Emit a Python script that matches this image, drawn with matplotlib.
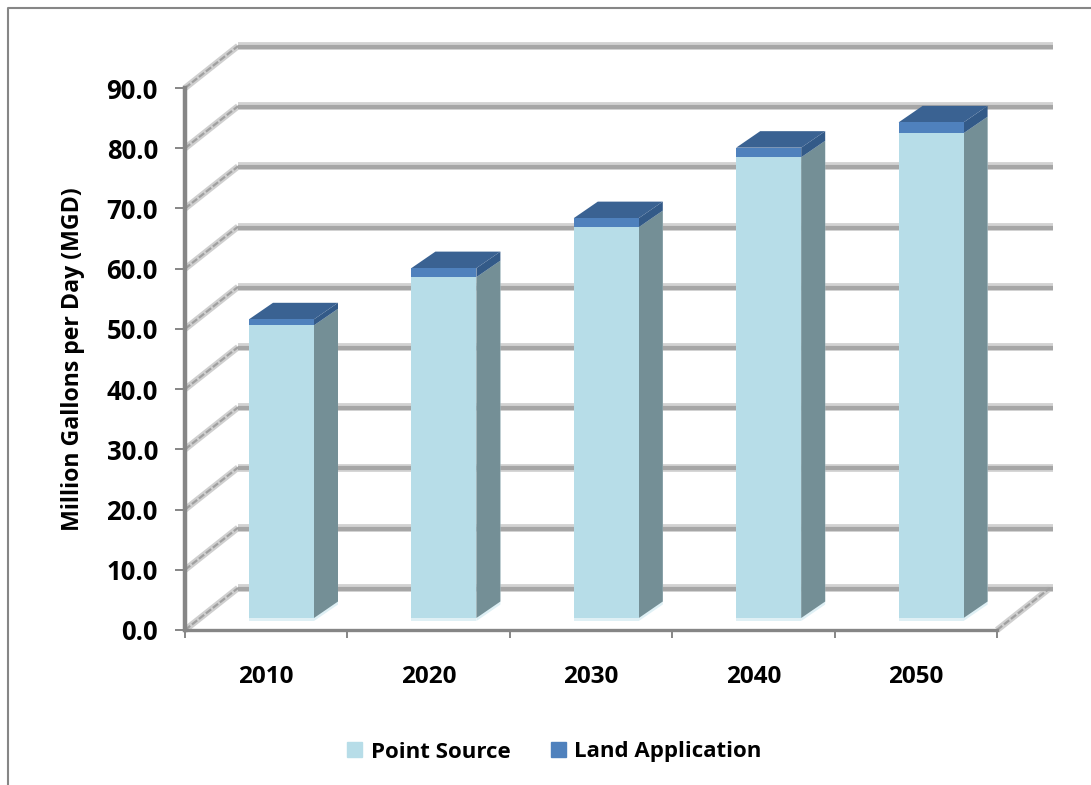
import matplotlib
matplotlib.use("Agg")
import matplotlib.pyplot as plt
from matplotlib.lines import Line2D
from matplotlib.patches import Patch

plt.rcParams["font.family"] = ["Open Sans", "DejaVu Sans"]
plt.rcParams["font.weight"] = "bold"

years = ["2010", "2020", "2030", "2040", "2050"]
point_source = [48.6, 56.6, 64.9, 76.5, 80.5]
land_application = [1.0, 1.5, 1.5, 1.6, 1.8]
y_ticks = [0, 10, 20, 30, 40, 50, 60, 70, 80, 90]

W, H = 1091, 785
LEFT, RIGHT, Y0, Y90 = 185, 997, 630, 88
x_px = (RIGHT - LEFT) / 5
y_px = (Y0 - Y90) / 90

# oblique offsets, converted from pixels to data units
wall_dx, wall_dy = 53 / x_px, 42 / y_px
wall_end = 5 + 56 / x_px
depth_dx, depth_dy = 24 / x_px, 16.5 / y_px
bar_left, bar_w = 64 / x_px, 65 / x_px
bar_base = 12 / y_px

LIGHT = "#b7dde8"
BLUE = "#4f81bd"
SIDE = "#748f96"
TOP = "#3a6292"
TOP_SIDE = "#335a88"
PALE = "#dff0f5"
AXIS = "#868686"

fig = plt.figure(figsize=(W / 100, H / 100), dpi=100)
ax = fig.add_axes([LEFT / W, 1 - Y0 / H, (RIGHT - LEFT) / W, (Y0 - Y90) / H])
ax.set_xlim(0, 5)
ax.set_ylim(0, 90)

# back wall and side wall lines
for v in y_ticks:
    ax.plot([wall_dx, wall_end], [v + wall_dy] * 2, color="#d2d2d2", lw=5.6,
            solid_capstyle="butt", clip_on=False, zorder=1)
    ax.plot([wall_dx, wall_end], [v + wall_dy - 0.15] * 2, color="#a6a6a6", lw=3,
            solid_capstyle="butt", clip_on=False, zorder=1.1)
    ax.plot([0, wall_dx], [v, v + wall_dy], color="#cfcfcf", lw=4.6,
            solid_capstyle="butt", clip_on=False, zorder=1)
    ax.plot([0, wall_dx], [v, v + wall_dy], color="#a0a0a0", lw=1.6, ls=(0, (3, 1)),
            clip_on=False, zorder=1.1)
ax.plot([5, 5 + wall_dx], [0, wall_dy], color="#cfcfcf", lw=4.6,
        solid_capstyle="butt", clip_on=False, zorder=1)
ax.plot([5, 5 + wall_dx], [0, wall_dy], color="#a0a0a0", lw=1.6, ls=(0, (3, 1)),
        clip_on=False, zorder=1.1)

# bars with side and top faces
lefts = [i + bar_left for i in range(len(years))]
for x, ps, la in zip(lefts, point_source, land_application):
    r = x + bar_w
    b = bar_base
    m = b + ps
    t = m + la
    ax.fill([r, r + depth_dx, r + depth_dx, r], [b - 0.5, b - 0.5 + depth_dy, m + depth_dy, m],
            color=PALE, lw=0, clip_on=False, zorder=2)
    ax.fill([r, r + depth_dx, r + depth_dx, r], [b, b + depth_dy, m + depth_dy, m],
            color=SIDE, lw=0, clip_on=False, zorder=2.1)
    ax.fill([r, r + depth_dx, r + depth_dx, r], [m, m + depth_dy, t + depth_dy, t],
            color=TOP_SIDE, lw=0, clip_on=False, zorder=2.1)
    ax.fill([x, x + depth_dx, r + depth_dx, r], [t, t + depth_dy, t + depth_dy, t],
            color=TOP, lw=0, clip_on=False, zorder=2.1)

ax.bar(lefts, [0.5] * 5, bar_w, bottom=bar_base - 0.5, align="edge", color=PALE, zorder=3)
ax.bar(lefts, point_source, bar_w, bottom=bar_base, align="edge", color=LIGHT, zorder=3)
ax.bar(lefts, land_application, bar_w, bottom=[bar_base + p for p in point_source],
       align="edge", color=BLUE, zorder=3)

for s in ["top", "right"]:
    ax.spines[s].set_visible(False)
ax.spines["left"].set_color(AXIS)
ax.spines["left"].set_linewidth(3.2)
ax.spines["bottom"].set_color(AXIS)
ax.spines["bottom"].set_linewidth(2.4)
ax.spines["left"].set_zorder(4)
ax.spines["bottom"].set_zorder(4)

ax.set_yticks(y_ticks)
ax.set_yticklabels([f"{v:.1f}" for v in y_ticks])
ax.set_xticks(range(6))
ax.set_xticklabels([])
ax.set_xticks([i + 0.5 for i in range(5)], years, minor=True)
ax.tick_params(axis="y", length=7, width=1.4, color=AXIS, pad=12.5, labelsize=18.5)
ax.tick_params(axis="x", which="major", length=6, width=1.4, color=AXIS)
ax.tick_params(axis="x", which="minor", length=0, pad=25, labelsize=17.5)
ax.set_ylabel("Million Gallons per Day (MGD)", fontsize=16.7, fontweight="bold")
ax.yaxis.set_label_coords((85 - LEFT) / (RIGHT - LEFT), 0.5)

handles = [Patch(color=LIGHT, label="Point Source"), Patch(color=BLUE, label="Land Application")]
fig.legend(handles=handles, loc="center", bbox_to_anchor=(554.5 / W, 1 - 752 / H), ncol=2,
           frameon=False, fontsize=16, handlelength=0.68, handleheight=0.68,
           handletextpad=0.38, columnspacing=1.8)

# chart area border, only top and left are in frame
fig.add_artist(Line2D([8 / W, 8 / W, 1], [0, 1 - 8 / H, 1 - 8 / H], color=AXIS, lw=1.5))

fig.savefig("out.png", dpi=100)
